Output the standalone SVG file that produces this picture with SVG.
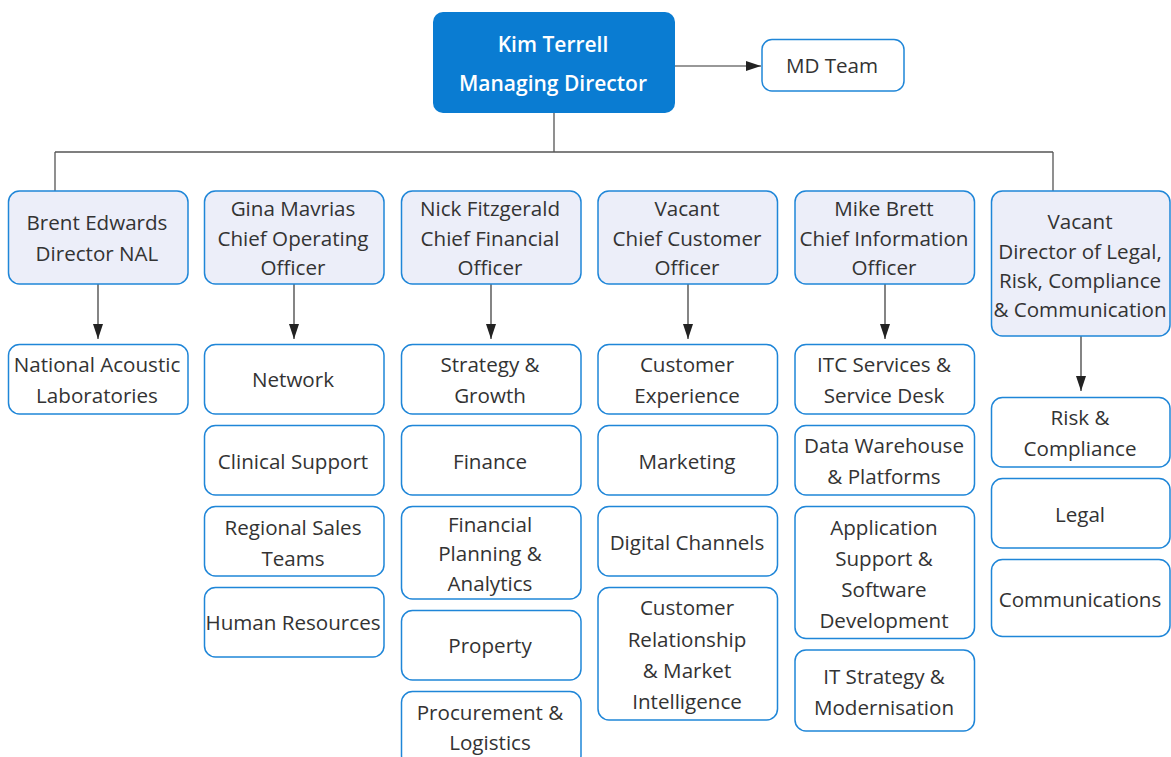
<svg xmlns="http://www.w3.org/2000/svg" width="1171" height="757" viewBox="0 0 1171 757">
  <style>
    text { font-family: "Open Sans", "Liberation Sans", sans-serif; font-size: 20.6px; fill: #333333; text-anchor: middle; }
    .box { fill: #ffffff; stroke: #1f86d8; stroke-width: 1.5; }
    .head { fill: #eceef9; stroke: #1f86d8; stroke-width: 1.5; }
    .md { fill: #0a7cd2; }
    .mdtxt { fill: #ffffff; font-weight: 600; font-size: 21px; }
    .tree { fill: none; stroke: #555555; stroke-width: 1.3; }
    .arr { fill: none; stroke: #333333; stroke-width: 1.2; marker-end: url(#ah); }
  </style>
  <defs>
    <marker id="ah" viewBox="0 0 15 10" markerWidth="15" markerHeight="10" refX="15" refY="5" orient="auto" markerUnits="userSpaceOnUse">
      <path d="M0,0 L15,5 L0,10 z" fill="#222222"/>
    </marker>
  </defs>

  <rect width="1171" height="757" fill="#ffffff"/>

  <!-- connectors -->
  <g id="connectors">
    <path class="tree" d="M554,113 V152 M55,152 H1053 M55,152 V191 M1053,152 V191"/>
    <line class="arr" x1="675" y1="66" x2="761" y2="66"/>
    <line class="arr" x1="98" y1="284" x2="98" y2="339"/>
    <line class="arr" x1="294" y1="284" x2="294" y2="339"/>
    <line class="arr" x1="491" y1="284" x2="491" y2="339"/>
    <line class="arr" x1="688" y1="284" x2="688" y2="339"/>
    <line class="arr" x1="885" y1="284" x2="885" y2="339"/>
    <line class="arr" x1="1081" y1="336" x2="1081" y2="391"/>
  </g>

  <!-- managing director -->
  <g id="md">
    <rect class="md" x="433" y="12" width="242" height="101" rx="10"/>
    <text class="mdtxt" x="553" y="52">Kim Terrell</text>
    <text class="mdtxt" x="553" y="91">Managing Director</text>
  </g>
  <g id="md-team">
    <rect class="box" x="762" y="39.5" width="142" height="51.5" rx="10"/>
    <text x="832" y="73">MD Team</text>
  </g>

  <!-- directors -->
  <g id="dir-nal">
    <rect class="head" x="8.5" y="191" width="179.5" height="93" rx="11"/>
    <text x="97" y="230">Brent Edwards</text>
    <text x="97" y="261">Director NAL</text>
  </g>
  <g id="dir-coo">
    <rect class="head" x="204.5" y="191" width="179.5" height="93" rx="11"/>
    <text x="293" y="216">Gina Mavrias</text>
    <text x="293" y="246">Chief Operating</text>
    <text x="293" y="275">Officer</text>
  </g>
  <g id="dir-cfo">
    <rect class="head" x="401.5" y="191" width="179.5" height="93" rx="11"/>
    <text x="490" y="216">Nick Fitzgerald</text>
    <text x="490" y="246">Chief Financial</text>
    <text x="490" y="275">Officer</text>
  </g>
  <g id="dir-cco">
    <rect class="head" x="598" y="191" width="179.5" height="93" rx="11"/>
    <text x="687" y="216">Vacant</text>
    <text x="687" y="246">Chief Customer</text>
    <text x="687" y="275">Officer</text>
  </g>
  <g id="dir-cio">
    <rect class="head" x="795" y="191" width="179.5" height="93" rx="11"/>
    <text x="884" y="216">Mike Brett</text>
    <text x="884" y="246">Chief Information</text>
    <text x="884" y="275">Officer</text>
  </g>
  <g id="dir-legal">
    <rect class="head" x="991.5" y="191" width="178.5" height="145" rx="11"/>
    <text x="1080" y="229">Vacant</text>
    <text x="1080" y="258.5">Director of Legal,</text>
    <text x="1080" y="288">Risk, Compliance</text>
    <text x="1080" y="317">&amp; Communication</text>
  </g>

  <!-- NAL -->
  <g id="nal-labs">
    <rect class="box" x="8.5" y="344.5" width="179.5" height="69.5" rx="11"/>
    <text x="97" y="372">National Acoustic</text>
    <text x="97" y="403">Laboratories</text>
  </g>

  <!-- operations -->
  <g id="coo-network">
    <rect class="box" x="204.5" y="344.5" width="179.5" height="69.5" rx="11"/>
    <text x="293" y="387">Network</text>
  </g>
  <g id="coo-clinical">
    <rect class="box" x="204.5" y="425.5" width="179.5" height="69.5" rx="11"/>
    <text x="293" y="469">Clinical Support</text>
  </g>
  <g id="coo-sales">
    <rect class="box" x="204.5" y="506.5" width="179.5" height="69.5" rx="11"/>
    <text x="293" y="535">Regional Sales</text>
    <text x="293" y="566">Teams</text>
  </g>
  <g id="coo-hr">
    <rect class="box" x="204.5" y="587.5" width="179.5" height="69.5" rx="11"/>
    <text x="293" y="630">Human Resources</text>
  </g>

  <!-- finance -->
  <g id="cfo-strategy">
    <rect class="box" x="401.5" y="344.5" width="179.5" height="69.5" rx="11"/>
    <text x="490" y="372">Strategy &amp;</text>
    <text x="490" y="403">Growth</text>
  </g>
  <g id="cfo-finance">
    <rect class="box" x="401.5" y="425.5" width="179.5" height="69.5" rx="11"/>
    <text x="490" y="469">Finance</text>
  </g>
  <g id="cfo-planning">
    <rect class="box" x="401.5" y="506.5" width="179.5" height="92.5" rx="11"/>
    <text x="490" y="532">Financial</text>
    <text x="490" y="561">Planning &amp;</text>
    <text x="490" y="591">Analytics</text>
  </g>
  <g id="cfo-property">
    <rect class="box" x="401.5" y="610.5" width="179.5" height="69.5" rx="11"/>
    <text x="490" y="653">Property</text>
  </g>
  <g id="cfo-procurement">
    <rect class="box" x="401.5" y="691.5" width="179.5" height="75" rx="11"/>
    <text x="490" y="720">Procurement &amp;</text>
    <text x="490" y="750">Logistics</text>
  </g>

  <!-- customer -->
  <g id="cco-experience">
    <rect class="box" x="598" y="344.5" width="179.5" height="69.5" rx="11"/>
    <text x="687" y="372">Customer</text>
    <text x="687" y="403">Experience</text>
  </g>
  <g id="cco-marketing">
    <rect class="box" x="598" y="425.5" width="179.5" height="69.5" rx="11"/>
    <text x="687" y="469">Marketing</text>
  </g>
  <g id="cco-digital">
    <rect class="box" x="598" y="506.5" width="179.5" height="69.5" rx="11"/>
    <text x="687" y="550">Digital Channels</text>
  </g>
  <g id="cco-crm">
    <rect class="box" x="598" y="587.5" width="179.5" height="132.5" rx="11"/>
    <text x="687" y="615">Customer</text>
    <text x="687" y="647">Relationship</text>
    <text x="687" y="678">&amp; Market</text>
    <text x="687" y="709">Intelligence</text>
  </g>

  <!-- information -->
  <g id="cio-itc">
    <rect class="box" x="795" y="344.5" width="179.5" height="69.5" rx="11"/>
    <text x="884" y="372">ITC Services &amp;</text>
    <text x="884" y="403">Service Desk</text>
  </g>
  <g id="cio-data">
    <rect class="box" x="795" y="425.5" width="179.5" height="69.5" rx="11"/>
    <text x="884" y="453">Data Warehouse</text>
    <text x="884" y="484">&amp; Platforms</text>
  </g>
  <g id="cio-apps">
    <rect class="box" x="795" y="506.5" width="179.5" height="132" rx="11"/>
    <text x="884" y="535">Application</text>
    <text x="884" y="566">Support &amp;</text>
    <text x="884" y="597">Software</text>
    <text x="884" y="628">Development</text>
  </g>
  <g id="cio-strategy">
    <rect class="box" x="795" y="650" width="179.5" height="81" rx="11"/>
    <text x="884" y="684">IT Strategy &amp;</text>
    <text x="884" y="715">Modernisation</text>
  </g>

  <!-- legal -->
  <g id="legal-risk">
    <rect class="box" x="991.5" y="397.5" width="178.5" height="69.5" rx="11"/>
    <text x="1080" y="425">Risk &amp;</text>
    <text x="1080" y="456">Compliance</text>
  </g>
  <g id="legal-legal">
    <rect class="box" x="991.5" y="478.5" width="178.5" height="69.5" rx="11"/>
    <text x="1080" y="522">Legal</text>
  </g>
  <g id="legal-comms">
    <rect class="box" x="991.5" y="559.5" width="178.5" height="77" rx="11"/>
    <text x="1080" y="607">Communications</text>
  </g>
</svg>
